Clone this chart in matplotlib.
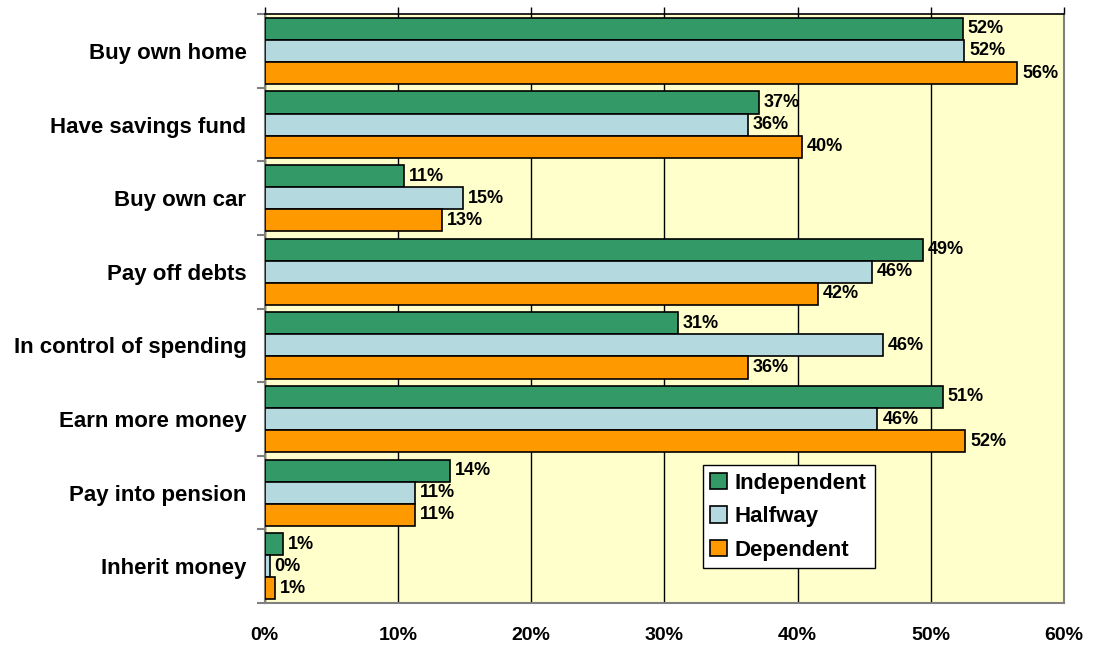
import matplotlib
matplotlib.use("Agg")
import matplotlib.pyplot as plt
import numpy as np
from matplotlib.patches import Patch

categories = ["Buy own home", "Have savings fund", "Buy own car", "Pay off debts",
              "In control of spending", "Earn more money", "Pay into pension", "Inherit money"]
independent = [52.4, 37.1, 10.5, 49.4, 31.0, 50.9, 13.9, 1.4]
halfway = [52.5, 36.3, 14.9, 45.6, 46.4, 46.0, 11.3, 0.4]
dependent = [56.5, 40.3, 13.3, 41.5, 36.3, 52.6, 11.3, 0.8]
independent_labels = ["52%", "37%", "11%", "49%", "31%", "51%", "14%", "1%"]
halfway_labels = ["52%", "36%", "15%", "46%", "46%", "46%", "11%", "0%"]
dependent_labels = ["56%", "40%", "13%", "42%", "36%", "52%", "11%", "1%"]
series_names = ["Independent", "Halfway", "Dependent"]
colors = ["#339966", "#B4D9DE", "#FF9900"]
xticks = [0, 10, 20, 30, 40, 50, 60]
xtick_labels = ["0%", "10%", "20%", "30%", "40%", "50%", "60%"]

plt.rcParams['font.family'] = ['Liberation Sans', 'DejaVu Sans']

fig = plt.figure(figsize=(10.93, 6.45), dpi=100)
ax = fig.add_axes([0.242, 0.065, 0.7315, 0.913])
ax.set_facecolor("#FFFFCC")

n = len(categories)
y = np.arange(n)
h = 0.3
series = [independent, halfway, dependent]
labels = [independent_labels, halfway_labels, dependent_labels]
for i, (vals, labs, col) in enumerate(zip(series, labels, colors)):
    pos = y + (i - 1) * h
    ax.barh(pos, vals, height=h, color=col, edgecolor="black", linewidth=1.2, zorder=3)
    for p, v, lab in zip(pos, vals, labs):
        ax.annotate(lab, (v, p), xytext=(3.5, 0), textcoords="offset points",
                    va="center", ha="left", fontsize=13, fontweight="bold", zorder=4)

ax.set_xlim(0, 60)
ax.set_ylim(n - 0.5, -0.5)
ax.set_xticks(xticks)
ax.set_xticklabels(xtick_labels, fontsize=14, fontweight="bold")
ax.tick_params(axis="x", bottom=False, top=True, labelbottom=True, labeltop=False,
               length=5, width=1, color="black", direction="out", pad=12)
ax.xaxis.grid(True, color="black", linewidth=1, zorder=1)
ax.set_axisbelow(True)

ax.set_yticks(y)
ax.set_yticklabels(categories, fontsize=16, fontweight="bold")
ax.tick_params(axis="y", length=0, pad=13)
ax.set_yticks(np.arange(n + 1) - 0.5, minor=True)
ax.tick_params(axis="y", which="minor", length=6, color="#808080", width=1.5)

for s in ["left", "bottom", "right"]:
    ax.spines[s].set_color("#808080")
    ax.spines[s].set_linewidth(1.5)
ax.spines["top"].set_color("black")
ax.spines["top"].set_linewidth(1.2)

handles = [Patch(facecolor=c, edgecolor="black", linewidth=1.2) for c in colors]
leg = ax.legend(handles, series_names, loc="lower left", bbox_to_anchor=(0.548, 0.059),
                prop={"weight": "bold", "size": 16}, frameon=True, fancybox=False,
                edgecolor="black", framealpha=1, handlelength=0.75, handleheight=0.75,
                handletextpad=0.35, borderpad=0.35, labelspacing=0.55, borderaxespad=0)
leg.get_frame().set_linewidth(1.0)
leg.set_zorder(5)

fig.savefig("out.png", dpi=100)
